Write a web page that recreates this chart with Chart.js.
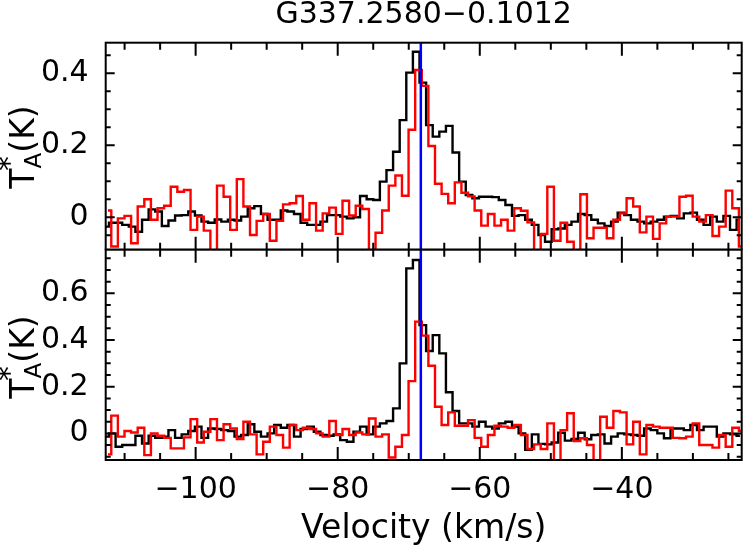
<!DOCTYPE html>
<html>
<head>
<meta charset="utf-8">
<script src="https://cdn.jsdelivr.net/npm/chart.js@4.4.1/dist/chart.umd.min.js"></script>
<style>
  html, body { margin: 0; padding: 0; background: #fff; }
  #wrap { position: relative; width: 747px; height: 546px; overflow: hidden; background: #fff; }
  #wrap canvas { position: absolute; left: 0; }
  .ylab {
    position: absolute;
    font-family: 'DejaVu Sans', sans-serif;
    font-size: 33px;
    line-height: 1;
    white-space: nowrap;
    color: #000;
    transform: translate(-50%, -50%) rotate(-90deg);
  }
  .ylab .sb { font-size: 0.7em; position: relative; top: 0.3em; }
  .ylab .sp { font-size: 0.9em; position: relative; top: -0.5em; margin-left: -0.62em; margin-right: 0.12em; }
</style>
</head>
<body>
<div id="wrap">
  <canvas id="topPanel" width="747" height="250" style="top:0"></canvas>
  <canvas id="bottomPanel" width="747" height="301" style="top:245px"></canvas>
  <div class="ylab" style="left:22px; top:147px">T<span class="sb">A</span><span class="sp">*</span>(K)</div>
  <div class="ylab" style="left:22px; top:357px">T<span class="sb">A</span><span class="sp">*</span>(K)</div>
</div>
<script>
// spectra, one value per channel (K)
const channelWidth = 0.93;     // km/s
const blackStart = -112.66;    // centre of first black channel
const redStart = -112.34;      // centre of first red channel
const refVelocity = -68.3;     // blue marker

const velMin = -112.66, velMax = -23.13;
const topMin = -0.09, topMax = 0.485;
const bottomMin = -0.114, bottomMax = 0.787;

const topBlack = [
  -0.026, -0.015, -0.015, -0.021, -0.026, -0.040, -0.007, 0.022, 0.016, -0.024,
  -0.009, 0.005, 0.006, 0.016, 0.005, -0.012, -0.015, -0.006, -0.012, -0.007,
  -0.009, 0.002, 0.025, 0.031, 0.009, -0.007, -0.007, 0.019, 0.016, 0.009,
  -0.015, -0.021, -0.021, -0.012, 0.006, 0.006, 0.002, -0.003, 0.000, 0.059,
  0.050, 0.048, 0.099, 0.131, 0.182, 0.270, 0.402, 0.460, 0.374, 0.256,
  0.224, 0.238, 0.254, 0.180, 0.099, 0.062, 0.053, 0.057, 0.057, 0.056,
  0.048, 0.034, 0.004, 0.006, -0.007, -0.021, -0.049, -0.068, -0.033, -0.031,
  -0.021, -0.012, 0.009, 0.006, -0.007, -0.017, -0.024, -0.012, 0.013, 0.006,
  -0.007, -0.012, -0.017, -0.012, -0.007, 0.002, 0.004, -0.003, 0.011, 0.013,
  -0.007, -0.021, 0.002, -0.012, 0.004, -0.035, -0.007
];
const topRed = [
  0.019, -0.081, -0.003, 0.004, -0.072, 0.030, 0.050, -0.007, 0.025, 0.032,
  0.085, 0.071, 0.076, -0.035, 0.002, -0.037, -0.110, 0.088, 0.057, -0.035,
  0.106, 0.030, -0.049, -0.010, 0.009, -0.065, -0.010, 0.036, 0.039, 0.059,
  -0.007, 0.039, -0.037, 0.011, 0.027, -0.046, 0.046, 0.005, 0.032, 0.023,
  -0.110, -0.043, 0.019, 0.088, 0.116, 0.060, 0.243, 0.409, 0.365, 0.198,
  0.093, 0.065, 0.039, 0.097, 0.068, 0.058, 0.019, -0.023, 0.009, -0.023,
  -0.007, -0.037, 0.025, 0.018, -0.014, -0.110, -0.046, 0.085, -0.065, -0.015,
  -0.068, -0.110, 0.064, -0.058, -0.029, -0.029, -0.058, -0.007, 0.011, 0.053,
  0.030, -0.042, 0.002, -0.060, -0.017, 0.002, 0.002, 0.057, 0.060, 0.002,
  -0.012, 0.006, -0.052, -0.026, 0.074, 0.025, -0.081
];
const bottomBlack = [
  -0.014, 0.000, -0.057, -0.050, -0.050, -0.010, -0.043, -0.010, -0.019, -0.014,
  0.014, -0.019, -0.004, 0.010, 0.029, -0.019, 0.021, 0.019, 0.014, 0.010,
  -0.014, -0.007, 0.039, 0.007, -0.014, 0.000, 0.036, 0.024, 0.036, -0.014,
  0.019, 0.029, 0.007, -0.007, -0.010, -0.004, -0.029, -0.036, 0.007, 0.029,
  -0.004, 0.029, 0.043, 0.053, 0.107, 0.300, 0.707, 0.743, 0.464, 0.353,
  0.421, 0.343, 0.176, 0.096, 0.043, 0.043, 0.029, 0.050, 0.029, 0.021,
  0.043, 0.050, 0.029, 0.000, -0.070, -0.004, -0.045, -0.047, -0.039, 0.003,
  -0.031, -0.024, 0.003, -0.025, -0.007, -0.004, -0.043, -0.014, 0.000, -0.004,
  -0.007, -0.010, 0.021, 0.014, 0.000, -0.021, 0.021, 0.021, 0.014, 0.036,
  0.014, 0.029, 0.029, -0.014, 0.000, -0.004, -0.010
];
const bottomRed = [
  -0.090, 0.076, -0.014, 0.010, 0.004, 0.024, -0.093, 0.000, -0.010, -0.019,
  -0.064, -0.064, -0.017, 0.061, -0.039, 0.007, 0.061, -0.029, 0.039, 0.021,
  -0.024, 0.050, -0.004, -0.090, -0.036, 0.029, -0.007, -0.061, 0.036, 0.014,
  0.024, 0.019, 0.000, -0.014, 0.053, -0.007, 0.019, -0.007, 0.004, -0.004,
  0.064, -0.014, -0.004, -0.103, -0.057, -0.007, 0.224, 0.479, 0.419, 0.290,
  0.114, 0.036, 0.090, 0.033, 0.033, 0.057, -0.019, -0.057, -0.007, 0.033,
  0.029, 0.024, 0.036, -0.007, -0.067, -0.047, -0.067, 0.043, -0.130, 0.014,
  0.086, -0.033, -0.021, -0.050, -0.130, 0.071, 0.024, 0.096, 0.090, -0.047,
  0.050, -0.090, 0.036, 0.029, 0.024, 0.024, -0.019, -0.021, -0.014, 0.043,
  -0.050, -0.050, -0.061, -0.007, -0.057, 0.024, 0.010
];

Chart.defaults.font.family = "'DejaVu Sans', sans-serif";
Chart.defaults.color = '#000';

function toPoints(start, vals) {
  return vals.map((y, i) => ({ x: start + i * channelWidth, y: y }));
}

// frame and inward ticks on all four sides
const frameTicks = {
  id: 'frameTicks',
  afterDraw(chart) {
    const { ctx, chartArea: a, scales: { x, y } } = chart;
    ctx.save();
    ctx.strokeStyle = '#000';
    ctx.lineWidth = 2;
    ctx.beginPath();
    for (let i = Math.ceil(x.min / 5); i <= Math.floor(x.max / 5); i++) {
      const px = x.getPixelForValue(i * 5);
      const len = i % 4 === 0 ? 13 : 7;
      ctx.moveTo(px, a.top); ctx.lineTo(px, a.top + len);
      ctx.moveTo(px, a.bottom); ctx.lineTo(px, a.bottom - len);
    }
    for (let j = Math.ceil(y.min / 0.05 - 1e-6); j <= Math.floor(y.max / 0.05 + 1e-6); j++) {
      const py = y.getPixelForValue(j * 0.05);
      const len = j % 4 === 0 ? 9 : 5;
      ctx.moveTo(a.left, py); ctx.lineTo(a.left + len, py);
      ctx.moveTo(a.right, py); ctx.lineTo(a.right - len, py);
    }
    ctx.stroke();
    ctx.strokeRect(a.left, a.top, a.right - a.left, a.bottom - a.top);
    ctx.restore();
  }
};

// no label overhang padding, so the frame sits where it should
function noPad(s) {
  s.paddingTop = 0; s.paddingBottom = 0; s.paddingLeft = 0; s.paddingRight = 0;
}

function yAxis(min, max) {
  return {
    min: min,
    max: max,
    grid: { display: false, drawTicks: false },
    border: { display: false },
    ticks: {
      stepSize: 0.2,
      includeBounds: false,
      padding: 17,
      font: { size: 30 },
      callback: v => Math.abs(v) < 1e-9 ? '0' : v.toFixed(1)
    },
    afterFit: s => { noPad(s); s.width = 105.7; }
  };
}

function datasets(black, red, yMin, yMax) {
  return [
    { data: [{ x: refVelocity, y: yMin - 1 }, { x: refVelocity, y: yMax + 1 }],
      borderColor: '#0000ff', borderWidth: 2.5, pointRadius: 0 },
    { data: toPoints(redStart, red), borderColor: '#ff0000', borderWidth: 2.4,
      pointRadius: 0, stepped: 'middle' },
    { data: toPoints(blackStart, black), borderColor: '#000000', borderWidth: 2.4,
      pointRadius: 0, stepped: 'middle' }
  ];
}

new Chart(document.getElementById('topPanel'), {
  type: 'line',
  data: { datasets: datasets(topBlack, topRed, topMin, topMax) },
  options: {
    responsive: false,
    animation: false,
    devicePixelRatio: 1,
    layout: { padding: { top: 0, left: 0, right: 5.3, bottom: 0.3 } },
    plugins: {
      legend: { display: false },
      tooltip: { enabled: false },
      title: {
        display: true,
        fullSize: false,
        text: 'G337.2580\u22120.1012',
        font: { size: 30, weight: 'normal', lineHeight: 1 },
        padding: { top: 0, bottom: 12.7 },
        color: '#000'
      }
    },
    scales: {
      x: { type: 'linear', min: velMin, max: velMax, display: false },
      y: yAxis(topMin, topMax)
    }
  },
  plugins: [frameTicks]
});

new Chart(document.getElementById('bottomPanel'), {
  type: 'line',
  data: { datasets: datasets(bottomBlack, bottomRed, bottomMin, bottomMax) },
  options: {
    responsive: false,
    animation: false,
    devicePixelRatio: 1,
    layout: { padding: { top: 4.7, left: 0, right: 5.3, bottom: 0 } },
    plugins: { legend: { display: false }, tooltip: { enabled: false } },
    scales: {
      x: {
        type: 'linear',
        min: velMin,
        max: velMax,
        grid: { display: false, drawTicks: false },
        border: { display: false },
        ticks: {
          stepSize: 20,
          includeBounds: false,
          autoSkip: false,
          maxRotation: 0,
          padding: 12,
          font: { size: 30 },
          callback: v => (v < 0 ? '\u2212' : '') + Math.abs(v)
        },
        title: {
          display: true,
          text: 'Velocity (km/s)',
          font: { size: 33, lineHeight: 1 },
          padding: { top: 0, bottom: 0.5 }
        },
        afterFit: s => { noPad(s); s.height = 86; }
      },
      y: yAxis(bottomMin, bottomMax)
    }
  },
  plugins: [frameTicks]
});
</script>
</body>
</html>
